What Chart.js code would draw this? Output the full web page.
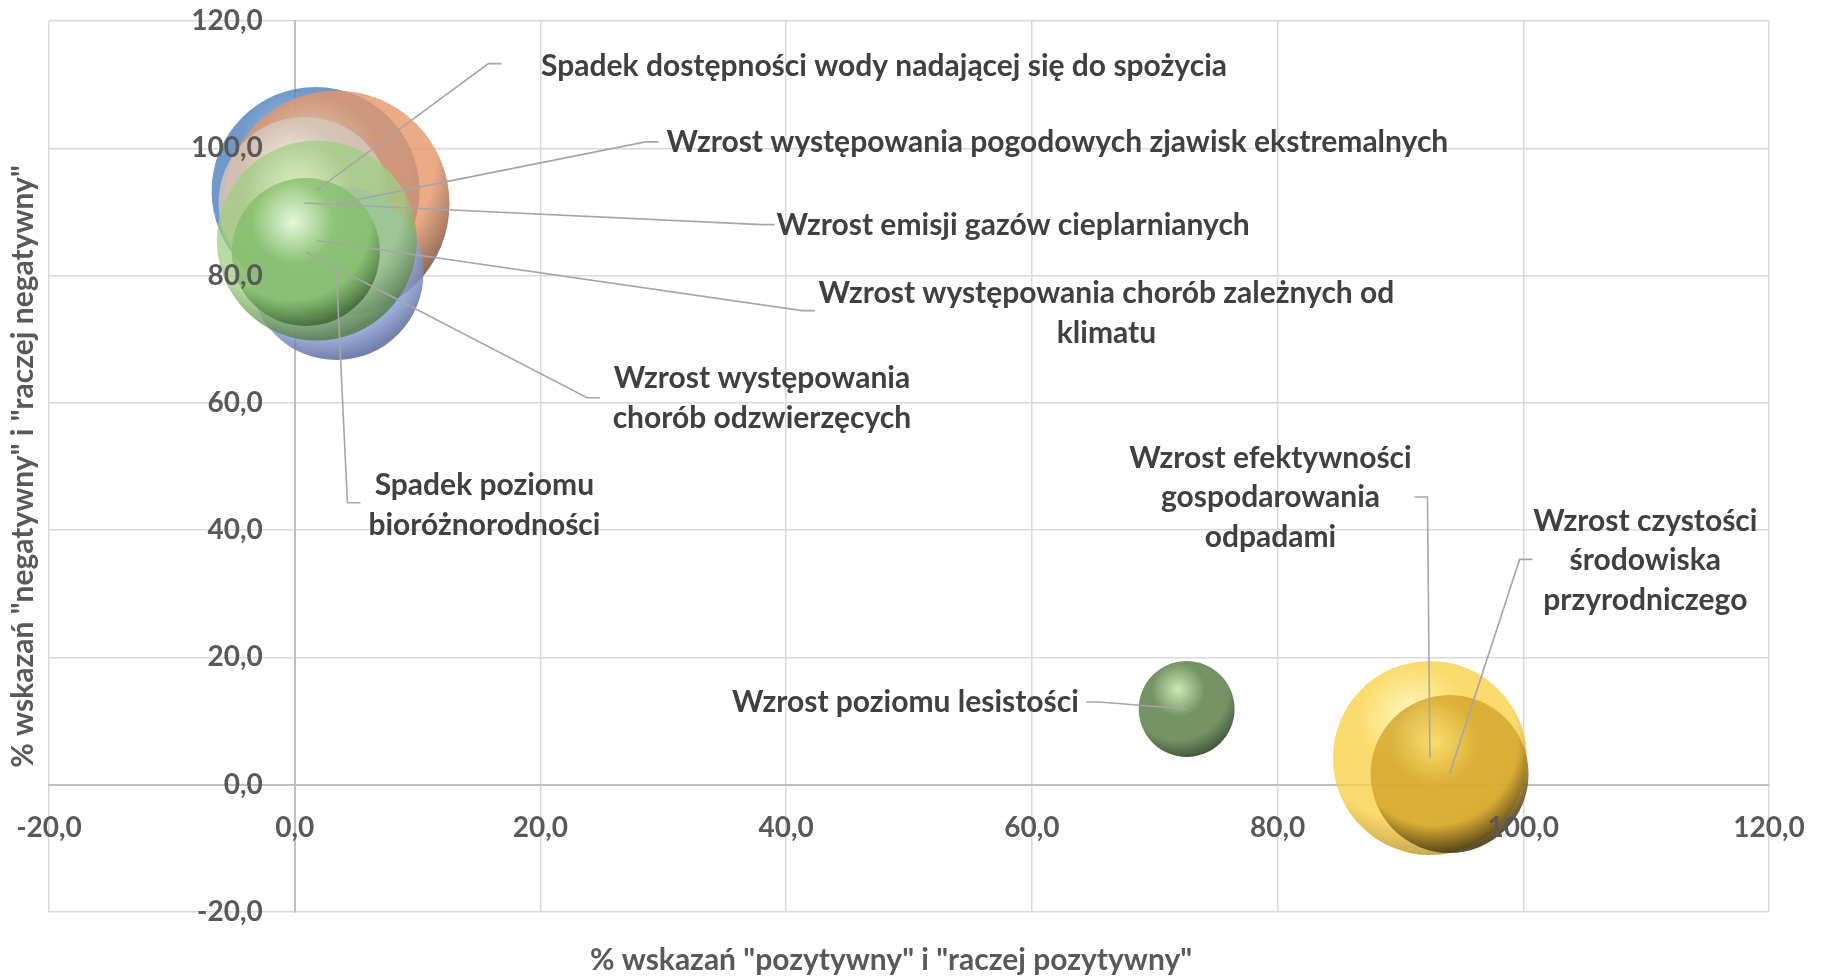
<!DOCTYPE html>
<html>
<head>
<meta charset="utf-8">
<script src="https://cdn.jsdelivr.net/npm/chart.js@4.4.0/dist/chart.umd.min.js"></script>
<style>
  html, body { margin: 0; padding: 0; background: #fff; }
  #wrap { width: 1825px; height: 976px; }
</style>
</head>
<body>
<div id="wrap"><canvas id="bubbles"></canvas></div>
<script>
// ---------------------------------------------------------------- data
var names = [
  ["Spadek dostępności wody nadającej się do spożycia"],
  ["Wzrost występowania pogodowych zjawisk ekstremalnych"],
  ["Wzrost emisji gazów cieplarnianych"],
  ["Spadek poziomu", "bioróżnorodności"],
  ["Wzrost występowania chorób zależnych od", "klimatu"],
  ["Wzrost występowania", "chorób odzwierzęcych"],
  ["Wzrost efektywności", "gospodarowania", "odpadami"],
  ["Wzrost czystości", "środowiska", "przyrodniczego"],
  ["Wzrost poziomu lesistości"]
];
var positive = [1.7, 3.4, 0.8, 3.4, 1.8, 0.9, 92.4, 94.0, 72.6];
var negative = [93.3, 91.3, 91.4, 80.4, 85.5, 83.7, 4.2, 1.7, 11.9];
var bubbleSize = [84.7, 100, 57.9, 59.3, 78.3, 42.9, 73.7, 48.9, 18.0];
var axisTicks = [-20, 0, 20, 40, 60, 80, 100, 120];
var xTitle = '% wskazań "pozytywny" i "raczej pozytywny"';
var yTitle = '% wskazań "negatywny" i "raczej negatywny"';

// label layout (in axis units): text centre and the bend of the leader line
var labelX = [47.97, 62.08, 58.48, 15.44, 66.07, 38.03, 79.42, 109.93, 49.71];
var labelY = [112.9, 100.9, 87.85, 43.9, 74.1, 60.7, 45.1, 35.2, 13.0];
var leadX = [15.77, 28.55, 38.0, 4.29, 41.3, 23.8, 92.2, 99.7, 65.5];
var leadY = [113.3, 101.0, 88.0, 44.3, 74.5, 60.8, 45.2, 35.4, 13.0];

// sphere colours: highlight, body, shadow side
var light = ['rgba(165,200,236,0.8)', 'rgba(250,210,175,0.8)', 'rgba(250,246,240,0.8)', 'rgba(214,226,252,0.8)',
             'rgba(222,246,200,0.75)', 'rgba(238,255,228,0.8)', 'rgba(255,250,185,0.8)', 'rgba(248,216,100,0.78)', 'rgba(200,232,178,0.95)'];
var body = ['rgba(76,128,190,0.8)', 'rgba(230,150,104,0.8)', 'rgba(212,200,188,0.8)', 'rgba(150,174,228,0.8)',
            'rgba(158,206,130,0.75)', 'rgba(130,190,104,0.75)', 'rgba(250,208,68,0.78)', 'rgba(212,164,40,0.8)', 'rgba(108,142,92,0.95)'];
var shade = ['rgba(44,82,130,0.85)', 'rgba(120,80,56,0.85)', 'rgba(130,118,104,0.85)', 'rgba(90,108,158,0.85)',
             'rgba(84,124,66,0.8)', 'rgba(60,100,48,0.8)', 'rgba(190,150,40,0.82)', 'rgba(70,56,16,0.88)', 'rgba(60,84,50,0.95)'];

var FONT = 'Lato, "Open Sans", sans-serif';
var MAX_R = 113;

function radiusFor(i) {
  return MAX_R * Math.sqrt(bubbleSize[i] / 100);
}

function fmt(v) {
  return Number(v).toFixed(1).replace('.', ',');
}

// radial gradient from a highlight up-left of centre; the shadow falls on the lower right
function sphere(c) {
  if (c.type !== 'data') return body[0];
  var i = c.dataIndex;
  var ch = c.chart;
  if (!ch.scales.x || !ch.chartArea) return body[i];
  var x = ch.scales.x.getPixelForValue(positive[i]);
  var y = ch.scales.y.getPixelForValue(negative[i]);
  var r = radiusFor(i);
  var hx = x - r * 0.18, hy = y - r * 0.4;
  var g = ch.ctx.createRadialGradient(hx, hy, 0, hx, hy, r * 1.4);
  g.addColorStop(0, light[i]);
  g.addColorStop(0.4, body[i]);
  g.addColorStop(0.75, body[i]);
  g.addColorStop(1, shade[i]);
  return g;
}

// ---------------------------------------------------------------- plugins
var leaderLabels = {
  id: 'leaderLabels',
  afterDatasetsDraw: function (chart) {
    var ctx = chart.ctx, sx = chart.scales.x, sy = chart.scales.y;
    ctx.save();
    ctx.strokeStyle = '#A6A6A6';
    ctx.lineWidth = 1.6;
    for (var i = 0; i < names.length; i++) {
      var px = sx.getPixelForValue(positive[i]);
      var py = sy.getPixelForValue(negative[i]);
      var ex = sx.getPixelForValue(leadX[i]);
      var ey = sy.getPixelForValue(leadY[i]);
      var dir = sx.getPixelForValue(labelX[i]) > ex ? 1 : -1;
      ctx.beginPath();
      ctx.moveTo(px, py);
      ctx.lineTo(ex, ey);
      ctx.lineTo(ex + dir * 13, ey);
      ctx.stroke();
    }
    ctx.fillStyle = '#404040';
    ctx.font = 'bold 30px ' + FONT;
    ctx.textAlign = 'center';
    ctx.textBaseline = 'middle';
    var lh = 39.5;
    for (var j = 0; j < names.length; j++) {
      var cx = sx.getPixelForValue(labelX[j]);
      var cy = sy.getPixelForValue(labelY[j]);
      var lines = names[j];
      var top = cy - (lines.length - 1) * lh / 2;
      for (var k = 0; k < lines.length; k++) {
        ctx.fillText(lines[k], cx, top + k * lh);
      }
    }

    // tick labels sit on top of the bubbles, next to the axes crossing at 0
    var x0 = sx.getPixelForValue(0), y0 = sy.getPixelForValue(0);
    ctx.fillStyle = '#595959';
    ctx.font = 'bold 28px ' + FONT;
    ctx.textAlign = 'right';
    sy.ticks.forEach(function (t) {
      ctx.fillText(fmt(t.value), x0 - 32, sy.getPixelForValue(t.value));
    });
    ctx.textAlign = 'center';
    sx.ticks.forEach(function (t) {
      ctx.fillText(fmt(t.value), sx.getPixelForValue(t.value), y0 + 43);
    });
    ctx.restore();
  }
};

var axisTitles = {
  id: 'axisTitles',
  afterDraw: function (chart) {
    var ctx = chart.ctx, a = chart.chartArea;
    ctx.save();
    ctx.fillStyle = '#595959';
    ctx.font = 'bold 30px ' + FONT;
    ctx.textAlign = 'center';
    ctx.textBaseline = 'middle';
    ctx.fillText(xTitle, (a.left + a.right) / 2 - 18, chart.height - 16);
    ctx.translate(23, (a.top + a.bottom) / 2);
    ctx.rotate(-Math.PI / 2);
    ctx.fillText(yTitle, 0, 0);
    ctx.restore();
  }
};

// ---------------------------------------------------------------- chart
var points = positive.map(function (v, i) {
  return { x: v, y: negative[i], r: radiusFor(i) };
});

new Chart(document.getElementById('bubbles'), {
  type: 'bubble',
  data: {
    datasets: [{
      data: points,
      backgroundColor: sphere,
      borderWidth: 0,
      clip: false
    }]
  },
  options: {
    responsive: true,
    maintainAspectRatio: false,
    animation: false,
    layout: { autoPadding: false, padding: { left: 49, right: 56, top: 21, bottom: 64 } },
    plugins: { legend: { display: false }, tooltip: { enabled: false } },
    scales: {
      x: {
        type: 'linear',
        position: { y: 0 },
        min: -20, max: 120,
        afterBuildTicks: function (s) { s.ticks = axisTicks.map(function (v) { return { value: v }; }); },
        grid: { color: '#D9D9D9', lineWidth: 1.5, drawTicks: false },
        border: { color: '#BFBFBF', width: 2 },
        ticks: { display: false }
      },
      y: {
        type: 'linear',
        position: { x: 0 },
        min: -20, max: 120,
        afterBuildTicks: function (s) { s.ticks = axisTicks.map(function (v) { return { value: v }; }); },
        grid: { color: '#D9D9D9', lineWidth: 1.5, drawTicks: false },
        border: { color: '#BFBFBF', width: 2 },
        ticks: { display: false }
      }
    }
  },
  plugins: [leaderLabels, axisTitles]
});
</script>
</body>
</html>
